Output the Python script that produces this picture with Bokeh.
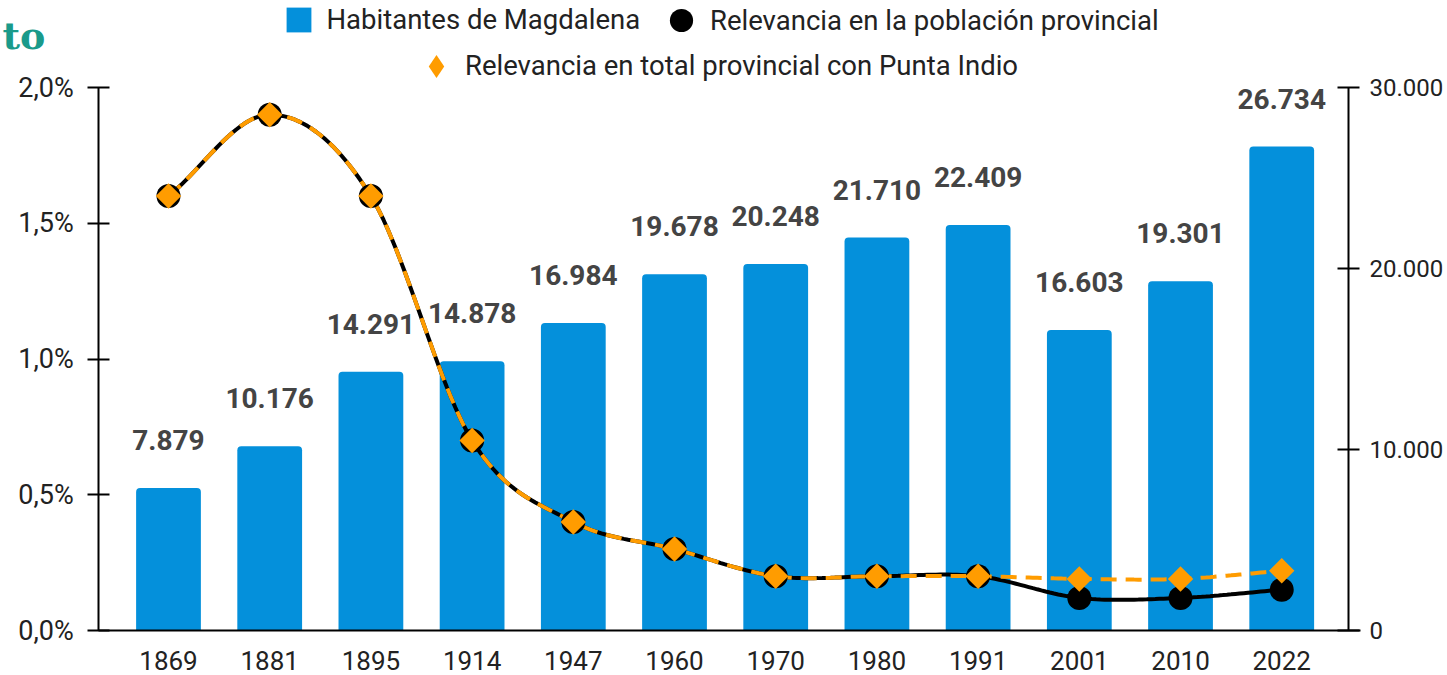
import numpy as np
from bokeh.plotting import figure
from bokeh.models import (ColumnDataSource, Range1d, LinearAxis, FixedTicker,
                          LabelSet, Legend, LegendItem, Label)
from bokeh.core.properties import value
from bokeh.embed import file_html
from bokeh.resources import INLINE

years = ["1869", "1881", "1895", "1914", "1947", "1960", "1970", "1980", "1991", "2001", "2010", "2022"]
habitantes = [7879, 10176, 14291, 14878, 16984, 19678, 20248, 21710, 22409, 16603, 19301, 26734]
relevancia = [1.6, 1.9, 1.6, 0.7, 0.4, 0.3, 0.2, 0.2, 0.2, 0.12, 0.12, 0.15]
relevancia_pi = [1.6, 1.9, 1.6, 0.7, 0.4, 0.3, 0.2, 0.2, 0.2, 0.19, 0.19, 0.22]
left_ticks = [0, 0.5, 1, 1.5, 2]
left_tick_labels = ["0,0%", "0,5%", "1,0%", "1,5%", "2,0%"]
right_ticks = [0, 10000, 20000, 30000]
right_tick_labels = ["0", "10.000", "20.000", "30.000"]

BLUE = "#0490DB"
ORANGE = "#FF9C00"
FONT = "Roboto"

idx = list(range(len(years)))
labels_txt = [f"{v:,}".replace(",", ".") for v in habitantes]


def smooth(xs, ys, n=24):
    xs = np.asarray(xs, float)
    ys = np.asarray(ys, float)
    px = np.concatenate([[2 * xs[0] - xs[1]], xs, [2 * xs[-1] - xs[-2]]])
    py = np.concatenate([[2 * ys[0] - ys[1]], ys, [2 * ys[-1] - ys[-2]]])
    ox, oy = [], []
    for i in range(1, len(px) - 2):
        t = np.linspace(0, 1, n, endpoint=False)
        for arr, out in ((px, ox), (py, oy)):
            p0, p1, p2, p3 = arr[i - 1], arr[i], arr[i + 1], arr[i + 2]
            out.extend(0.5 * ((2 * p1) + (-p0 + p2) * t + (2 * p0 - 5 * p1 + 4 * p2 - p3) * t ** 2
                              + (-p0 + 3 * p1 - 3 * p2 + p3) * t ** 3))
    ox.append(xs[-1]); oy.append(ys[-1])
    return ox, oy


# The frame covers the whole canvas; the three axes sit at fixed places and are bounded
W, H = 1447, 675
X0, X1 = -1.66, 12.638           # category-index range of the full width
AX_L, AX_R = -0.69, 11.66        # where the left / right axes sit
PX_PER_PCT = 543 / 2             # 0 %..2 % spans 543 px
Y0, Y1 = -45 / PX_PER_PCT, 630 / PX_PER_PCT
HSCALE = 30000 / 2

p = figure(frame_width=W, frame_height=H, output_backend="svg", toolbar_location=None,
           x_range=Range1d(X0, X1), y_range=Range1d(Y0, Y1),
           min_border_left=0, min_border_top=0, min_border_right=0, min_border_bottom=0)
p.outline_line_color = None
p.grid.visible = False
p.extra_y_ranges = {"hab": Range1d(Y0 * HSCALE, Y1 * HSCALE)}

src = ColumnDataSource(dict(x=idx, hab=habitantes, rel=relevancia, relpi=relevancia_pi, lab=labels_txt))

bars = p.vbar(x="x", top="hab", bottom=0, width=0.64, source=src, y_range_name="hab",
              fill_color=BLUE, line_color=None, border_radius=(4, 4, 0, 0))

p.add_layout(LabelSet(x="x", y="hab", text="lab", source=src, y_range_name="hab",
                      y_offset=48, text_align="center", text_baseline="middle",
                      text_font=value(FONT), text_font_size=value("28px"),
                      text_font_style=value("bold"), text_color="#444444"))

sx, sy = smooth(idx, relevancia)
p.line(sx, sy, line_color="black", line_width=4)
sx2, sy2 = smooth(idx, relevancia_pi)
p.line(sx2, sy2, line_color=ORANGE, line_width=4, line_dash="16 9")
circ = p.scatter(x="x", y="rel", source=src, marker="circle", size=24,
                 fill_color="black", line_color=None)
diam = p.scatter(x="x", y="relpi", source=src, marker="square", angle=np.pi / 4, size=18,
                 fill_color=ORANGE, line_color=None)
# hidden twin of the diamonds, only used for the legend key (legend keys ignore angle)
key_diamond = p.scatter(x="x", y="relpi", source=src, marker="diamond",
                        fill_color=ORANGE, line_color=None, visible=False)

# axes
p.xaxis.ticker = FixedTicker(ticks=idx)
p.xaxis.major_label_overrides = {i: y for i, y in zip(idx, years)}
p.xaxis.bounds = (AX_L, 11.78)
p.xaxis.fixed_location = 0
p.xaxis.major_tick_line_color = None
p.xaxis.minor_tick_line_color = None
p.xaxis.axis_line_color = "black"
p.xaxis.axis_line_width = 2
p.xaxis.major_label_text_font = FONT
p.xaxis.major_label_text_font_size = "26px"
p.xaxis.major_label_text_color = "#222222"
p.xaxis.major_label_standoff = 14

p.yaxis.ticker = FixedTicker(ticks=left_ticks)
p.yaxis.major_label_overrides = {float(t): l for t, l in zip(left_ticks, left_tick_labels)}
p.yaxis.bounds = (0, 2)
p.yaxis.fixed_location = AX_L
p.yaxis.minor_tick_line_color = None
p.yaxis.major_tick_in = 11
p.yaxis.major_tick_out = 11
p.yaxis.major_tick_line_width = 2
p.yaxis.axis_line_width = 2
p.yaxis.major_label_text_font = FONT
p.yaxis.major_label_text_font_size = "27px"
p.yaxis.major_label_text_color = "#222222"
p.yaxis.major_label_standoff = 14

ry = LinearAxis(y_range_name="hab", ticker=FixedTicker(ticks=right_ticks))
ry.major_label_overrides = {float(t): l for t, l in zip(right_ticks, right_tick_labels)}
ry.bounds = (0, 30000)
ry.fixed_location = AX_R
ry.minor_tick_line_color = None
ry.major_tick_in = 11
ry.major_tick_out = 11
ry.major_tick_line_width = 2
ry.axis_line_width = 2
ry.major_label_text_font = FONT
ry.major_label_text_font_size = "24px"
ry.major_label_text_color = "#222222"
ry.major_label_standoff = 10
p.add_layout(ry, "right")

# legends (three separate ones so each key can be sized and placed like the reference)
common = dict(orientation="horizontal", padding=0, margin=0, spacing=0,
              label_text_font=FONT, label_text_font_size="27.5px", label_text_color="#222222",
              border_line_color=None, background_fill_alpha=0)
KB = 58   # marker keys are drawn at 0.4 of the key box
SB = 31   # box for the bar key
legA = Legend(items=[LegendItem(label="Habitantes de Magdalena", renderers=[bars], index=0)],
              location=(298 - SB / 2, H - (20.5 + SB / 2)), glyph_width=SB, glyph_height=SB,
              label_height=24, label_standoff=13, **common)
legB = Legend(items=[LegendItem(label="Relevancia en la población provincial", renderers=[circ], index=0)],
              location=(681 - KB / 2, H - (20 + KB / 2)), glyph_width=KB, glyph_height=KB,
              label_height=24, label_standoff=0, **common)
legC = Legend(items=[LegendItem(label="Relevancia en total provincial con Punta Indio",
                                renderers=[key_diamond], index=0)],
              location=(436 - KB / 2, H - (65.5 + KB / 2)), glyph_width=KB, glyph_height=KB,
              label_height=24, label_standoff=0, **common)
for lg in (legA, legB, legC):
    p.add_layout(lg, "center")

p.add_layout(Label(x=2, y=H - 35, x_units="screen", y_units="screen", text="to",
                   text_font="DejaVu Serif", text_font_style="bold", text_font_size="38px",
                   text_color="#1A9A8A", text_baseline="middle", text_align="left"))

open("out.html", "w").write(file_html(p, INLINE))
